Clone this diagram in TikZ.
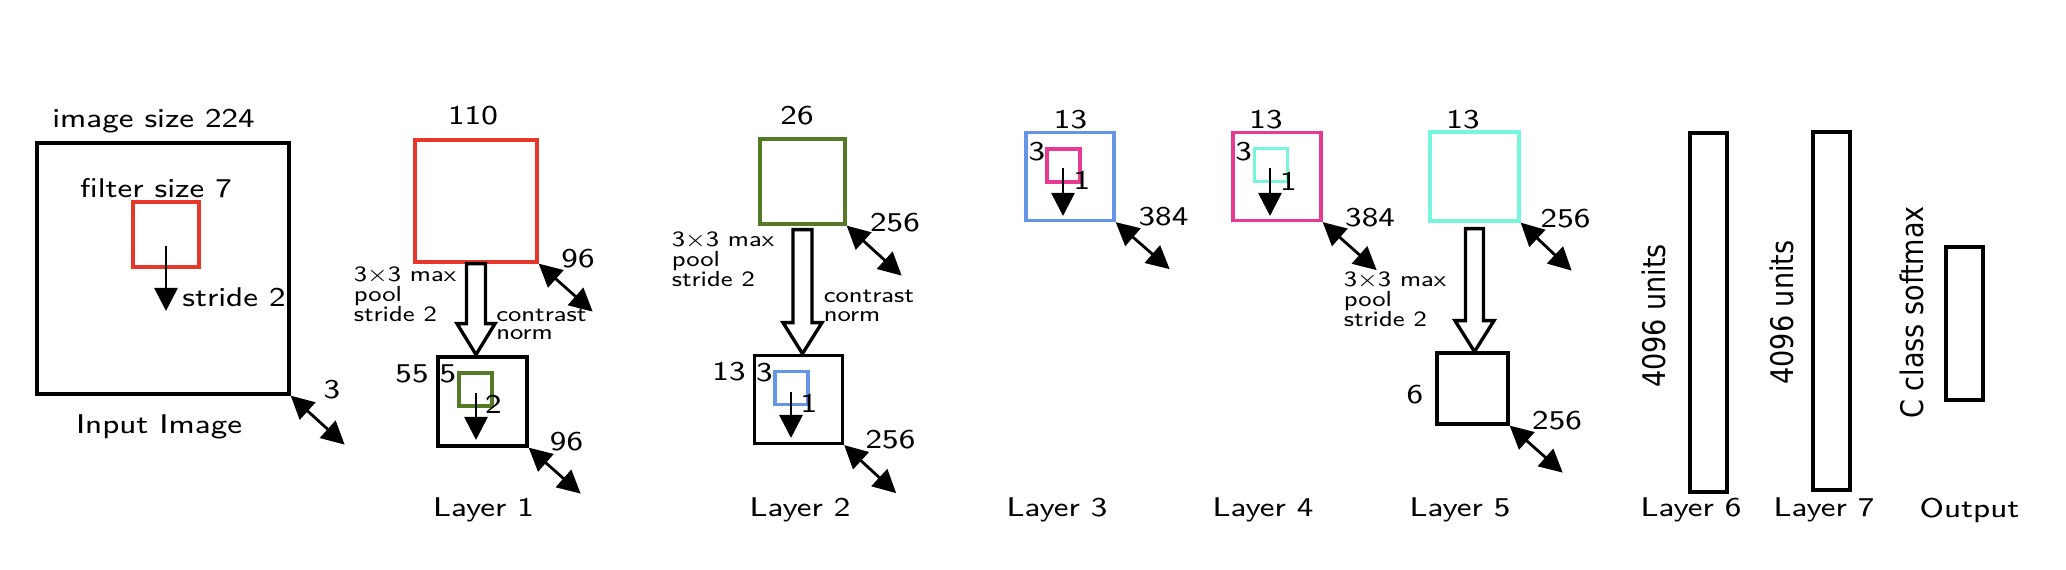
\documentclass[tikz,border=0pt]{standalone}
\usepackage{fontspec}
\usetikzlibrary{arrows.meta}
\newfontfamily\dejavu{DejaVu Sans}
\definecolor{cred}{RGB}{230,56,42}
\definecolor{cgreen}{RGB}{85,122,38}
\definecolor{cblue}{RGB}{100,149,230}
\definecolor{cpink}{RGB}{232,58,147}
\definecolor{ccyan}{RGB}{118,246,220}

\begin{document}
\begin{tikzpicture}[>={Triangle[length=0.23cm,width=0.23cm]}]
	\useasboundingbox (0,0) rectangle (20.66,5.70);
	\tikzstyle{lbl}=[font=\sffamily\fontsize{7.7}{9}\selectfont, xscale=1.15, inner sep=0pt]
	\tikzstyle{small}=[font=\sffamily\fontsize{6.2}{5.7}\selectfont, xscale=1.15, inner sep=0pt, align=left, anchor=west]
	\tikzstyle{units}=[font=\dejavu\fontsize{7.7}{9}\selectfont, xscale=1.15, rotate=90, inner sep=0pt]
	\tikzstyle{box}=[draw, line width=0.95pt, inner sep=0pt]
	\tikzstyle{arr}=[line width=0.8pt]
	\tikzstyle{hollow}=[draw, fill=white, line width=0.95pt, line join=miter]
		% input image
		\path (1.63,3.015) node[box, minimum width=2.52cm, minimum height=2.51cm] (I0) {};
		\path (1.66,3.355) node[box, draw=cred, minimum width=0.66cm, minimum height=0.65cm] (F0) {};
		\path (1.535,4.49) node[lbl] (t0) {image size 224};
		\path (1.56,3.82) node[lbl] (t1) {filter size 7};
		\path (2.34,2.727) node[lbl] (t2) {stride 2};
		\path (3.32,1.80) node[lbl] (t3) {3};
		\path (1.59,1.434) node[lbl] (n0) {Input Image};
		\path (1.66,3.24) coordinate (s0);
		\path (1.66,2.59) coordinate (e0);
		\path (I0.south east) ++(0.54,-0.49) coordinate (d0);
		\draw[arr,->] (s0) -- (e0);
		\draw[arr,<->] (I0.south east) -- (d0);
		% layer 1
		\path (4.76,3.69) node[box, draw=cred, minimum size=1.22cm] (L1a) {};
		\path (4.825,1.685) node[box, minimum size=0.89cm] (L1b) {};
		\path (4.755,1.805) node[box, draw=cgreen, minimum size=0.33cm] (F1) {};
		\path (4.73,4.54) node[lbl] (t4) {110};
		\path (5.78,3.115) node[lbl] (t5) {96};
		\path (3.53,2.758) node[small] (t6) {3×3 max\\pool\\stride 2};
		\path (4.955,2.455) node[small, font=\sffamily\fontsize{6.2}{5.2}\selectfont] (t7) {contrast\\norm};
		\path (4.12,1.96) node[lbl] (t8) {55};
		\path (4.48,1.96) node[lbl] (t9) {5};
		\path (4.935,1.66) node[lbl] (t10) {2};
		\path (5.665,1.28) node[lbl] (t11) {96};
		\path (4.835,0.60) node[lbl] (n1) {Layer 1};
		\path (4.76,1.77) coordinate (s1);
		\path (4.76,1.30) coordinate (e1);
		\path (L1a.south east) ++(0.54,-0.48) coordinate (d1a);
		\path (L1b.south east) ++(0.52,-0.46) coordinate (d1b);
		\draw[hollow, shift={(L1a.south)}] (-0.095,0) -- (-0.095,-0.60) -- (-0.19,-0.60) -- (0,-0.91) -- (0.19,-0.60) -- (0.095,-0.60) -- (0.095,0) -- cycle;
		\draw[arr,->] (s1) -- (e1);
		\draw[arr,<->] (L1a.south east) -- (d1a);
		\draw[arr,<->] (L1b.south east) -- (d1b);
		% layer 2
		\path (8.025,3.885) node[box, draw=cgreen, minimum size=0.85cm] (L2a) {};
		\path (7.985,1.705) node[box, minimum size=0.88cm] (L2b) {};
		\path (7.915,1.82) node[box, draw=cblue, minimum size=0.33cm] (F2) {};
		\path (7.97,4.54) node[lbl] (t12) {26};
		\path (8.95,3.475) node[lbl] (t13) {256};
		\path (6.71,3.108) node[small] (t14) {3×3 max\\pool\\stride 2};
		\path (8.23,2.642) node[small, font=\sffamily\fontsize{6.2}{5.2}\selectfont] (t15) {contrast\\norm};
		\path (7.29,1.98) node[lbl] (t16) {13};
		\path (7.645,1.97) node[lbl] (t17) {3};
		\path (8.09,1.67) node[lbl] (t18) {1};
		\path (8.905,1.30) node[lbl] (t19) {256};
		\path (8.00,0.60) node[lbl] (n2) {Layer 2};
		\path (7.91,1.78) coordinate (s2);
		\path (7.91,1.32) coordinate (e2);
		\path (L2a.south east) ++(0.55,-0.50) coordinate (d2a);
		\path (L2b.south east) ++(0.52,-0.48) coordinate (d2b);
		\draw[hollow, shift={(L2a.south)}] (-0.095,-0.04) -- (-0.095,-0.97) -- (-0.195,-0.97) -- (0,-1.28) -- (0.195,-0.97) -- (0.095,-0.97) -- (0.095,-0.04) -- cycle;
		\draw[arr,->] (s2) -- (e2);
		\draw[arr,<->] (L2a.south east) -- (d2a);
		\draw[arr,<->] (L2b.south east) -- (d2b);
		% layer 3
		\path (10.70,3.935) node[box, draw=cblue, minimum size=0.88cm] (L3) {};
		\path (10.635,4.045) node[box, draw=cpink, minimum size=0.33cm] (F3) {};
		\path (10.705,4.505) node[lbl] (t20) {13};
		\path (10.37,4.185) node[lbl] (t21) {3};
		\path (10.82,3.90) node[lbl] (t22) {1};
		\path (11.635,3.53) node[lbl] (t23) {384};
		\path (10.57,0.60) node[lbl] (n3) {Layer 3};
		\path (10.63,4.02) coordinate (s3);
		\path (10.63,3.54) coordinate (e3);
		\path (L3.south east) ++(0.54,-0.47) coordinate (d3);
		\draw[arr,->] (s3) -- (e3);
		\draw[arr,<->] (L3.south east) -- (d3);
		% layer 4
		\path (12.77,3.935) node[box, draw=cpink, minimum size=0.88cm] (L4) {};
		\path (12.71,4.05) node[box, draw=ccyan, minimum size=0.33cm] (F4) {};
		\path (12.66,4.50) node[lbl] (t24) {13};
		\path (12.437,4.183) node[lbl] (t25) {3};
		\path (12.883,3.89) node[lbl] (t26) {1};
		\path (13.70,3.527) node[lbl] (t27) {384};
		\path (13.43,2.707) node[small] (t28) {3×3 max\\pool\\stride 2};
		\path (12.63,0.60) node[lbl] (n4) {Layer 4};
		\path (12.70,4.02) coordinate (s4);
		\path (12.70,3.54) coordinate (e4);
		\path (L4.south east) ++(0.54,-0.48) coordinate (d4);
		\draw[arr,->] (s4) -- (e4);
		\draw[arr,<->] (L4.south east) -- (d4);
		% layer 5
		\path (14.745,3.935) node[box, draw=ccyan, minimum size=0.89cm] (L5a) {};
		\path (14.725,1.815) node[box, minimum size=0.71cm] (L5b) {};
		\path (14.63,4.50) node[lbl] (t29) {13};
		\path (15.655,3.515) node[lbl] (t30) {256};
		\path (14.15,1.75) node[lbl] (t31) {6};
		\path (15.57,1.493) node[lbl] (t32) {256};
		\path (14.60,0.60) node[lbl] (n5) {Layer 5};
		\path (L5a.south east) ++(0.51,-0.48) coordinate (d5a);
		\path (L5b.south east) ++(0.53,-0.47) coordinate (d5b);
		\draw[hollow, shift={(L5a.south)}] (-0.09,-0.06) -- (-0.09,-0.98) -- (-0.195,-0.98) -- (0,-1.29) -- (0.195,-0.98) -- (0.09,-0.98) -- (0.09,-0.06) -- cycle;
		\draw[arr,<->] (L5a.south east) -- (d5a);
		\draw[arr,<->] (L5b.south east) -- (d5b);
		% fully connected layers
		\path (17.085,2.575) node[box, minimum width=0.37cm, minimum height=3.59cm] (L6) {};
		\path (18.315,2.59) node[box, minimum width=0.37cm, minimum height=3.58cm] (L7) {};
		\path (19.645,2.465) node[box, minimum width=0.37cm, minimum height=1.53cm] (O) {};
		\path (16.54,2.54) node[units] (u6) {4096 units};
		\path (17.82,2.575) node[units] (u7) {4096 units};
		\path (19.12,2.575) node[units] (uo) {C class softmax};
		\path (16.91,0.60) node[lbl] (n6) {Layer 6};
		\path (18.24,0.60) node[lbl] (n7) {Layer 7};
		\path (19.695,0.60) node[lbl] (no) {Output};
\end{tikzpicture}
\end{document}
